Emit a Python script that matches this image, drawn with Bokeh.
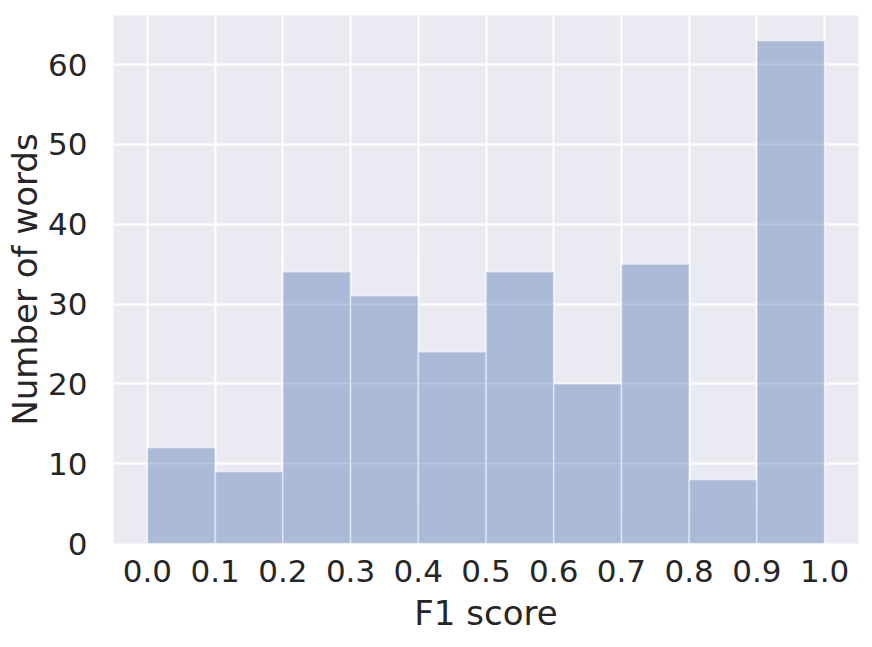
from bokeh.plotting import figure
from bokeh.models import Range1d, FixedTicker, CustomJSTickFormatter, ColumnDataSource
from bokeh.embed import file_html
from bokeh.resources import INLINE

# Data
bin_edges = [0.0, 0.1, 0.2, 0.3, 0.4, 0.5, 0.6, 0.7, 0.8, 0.9, 1.0]
counts = [12, 9, 34, 31, 24, 34, 20, 35, 8, 63]
x_ticks = [0.0, 0.1, 0.2, 0.3, 0.4, 0.5, 0.6, 0.7, 0.8, 0.9, 1.0]
y_ticks = [0, 10, 20, 30, 40, 50, 60]

src = ColumnDataSource(dict(left=bin_edges[:-1], right=bin_edges[1:],
                            top=counts, bottom=[0] * len(counts)))

TEXT = "#262626"
FONT = "DejaVu Sans"

p = figure(width=866, height=640, output_backend="svg", toolbar_location=None,
           x_range=Range1d(-0.05, 1.05), y_range=Range1d(0, 66.15),
           min_border_left=113, min_border_right=8, min_border_top=15, min_border_bottom=97)

p.background_fill_color = "#eaeaf2"
p.border_fill_color = "white"
p.outline_line_color = None

p.quad(left="left", right="right", top="top", bottom="bottom", source=src,
       fill_color="#4c72b0", fill_alpha=0.4, line_color="white", line_alpha=0.4, line_width=1.5)

for ax in (p.xaxis[0], p.yaxis[0]):
    ax.axis_line_color = None
    ax.major_tick_line_color = None
    ax.minor_tick_line_color = None
    ax.major_label_text_font = FONT
    ax.major_label_text_font_size = "31px"
    ax.major_label_text_color = TEXT
    ax.axis_label_text_font = FONT
    ax.axis_label_text_font_size = "34px"
    ax.axis_label_text_font_style = "normal"
    ax.axis_label_text_color = TEXT

p.xaxis.ticker = FixedTicker(ticks=x_ticks)
p.xaxis.formatter = CustomJSTickFormatter(code="return tick.toFixed(1);")
p.yaxis.ticker = FixedTicker(ticks=y_ticks)
p.xaxis.axis_label = "F1 score"
p.yaxis.axis_label = "Number of words"
p.xaxis.major_label_standoff = 10
p.yaxis.major_label_standoff = 20
p.xaxis.axis_label_standoff = 8
p.yaxis.axis_label_standoff = 0

p.xgrid.ticker = FixedTicker(ticks=x_ticks)
p.ygrid.ticker = FixedTicker(ticks=y_ticks)
p.grid.grid_line_color = "white"
p.grid.grid_line_width = 2

open("out.html", "w").write(file_html(p, INLINE))
